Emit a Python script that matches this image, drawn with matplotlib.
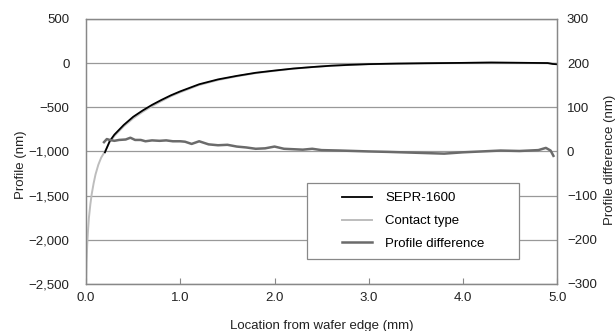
import matplotlib
matplotlib.use("Agg")
import matplotlib.pyplot as plt
from matplotlib.patches import Rectangle
from matplotlib.ticker import FuncFormatter

plt.rcParams['font.family'] = ['Liberation Sans', 'DejaVu Sans']

# contact type profile (nm), full range from wafer edge
contact_x = [0.0, 0.005, 0.012, 0.02, 0.03, 0.045, 0.06, 0.08, 0.1, 0.13, 0.16, 0.2,
             0.25, 0.3, 0.4, 0.5, 0.6, 0.7, 0.8, 0.9, 1.0, 1.2, 1.4, 1.6, 1.8, 2.0,
             2.2, 2.4, 2.6, 2.8, 3.0, 3.3, 3.6, 4.0, 4.3, 4.6, 4.9, 5.0]
contact_y = [-2480, -2250, -2050, -1900, -1750, -1600, -1480, -1360, -1260, -1150, -1070, -1000,
             -895, -825, -715, -625, -552, -487, -430, -375, -330, -248, -192, -150, -114, -88,
             -64, -46, -31, -21, -13, -7, -3, 1, 5, 2, -1, -6]

# SEPR-1600 profile (nm)
sepr_x = [0.2, 0.25, 0.3, 0.4, 0.5, 0.6, 0.7, 0.8, 0.9, 1.0, 1.2, 1.4, 1.6, 1.8, 2.0,
          2.2, 2.4, 2.6, 2.8, 3.0, 3.3, 3.6, 4.0, 4.3, 4.6, 4.9, 4.95, 5.0]
sepr_y = [-1010, -885, -810, -700, -608, -537, -473, -417, -365, -320, -240, -185, -145, -110, -85,
          -62, -45, -30, -20, -12, -6, -2, 2, 6, 3, 0, -10, -14]

# profile difference (nm), right axis
diff_x = [0.19, 0.22, 0.25, 0.3, 0.35, 0.42, 0.47, 0.52, 0.58, 0.63, 0.7, 0.78, 0.85, 0.92,
          1.0, 1.05, 1.12, 1.2, 1.3, 1.4, 1.5, 1.6, 1.7, 1.8, 1.9, 2.0, 2.1, 2.2, 2.3, 2.4,
          2.5, 2.7, 3.0, 3.2, 3.5, 3.8, 4.0, 4.2, 4.4, 4.6, 4.8, 4.88, 4.93, 4.96]
diff_y = [21, 28, 26, 24, 26, 27, 31, 26, 26, 23, 25, 24, 25, 23,
          23, 22, 17, 23, 16, 14, 15, 11, 9, 6, 7, 11, 6, 5, 4, 6,
          3, 2, 0, -1, -3, -5, -2, 0, 2, 1, 3, 8, 2, -10]

fig = plt.figure(figsize=(6.15, 3.31), dpi=100)
ax1 = fig.add_axes([0.14, 0.142, 0.766, 0.801])
ax2 = ax1.twinx()

ax1.set_xlim(0, 5)
ax1.set_ylim(-2500, 500)
ax1.set_yticks(range(-2500, 501, 500))
ax1.set_xticks([0, 1, 2, 3, 4, 5])
ax1.yaxis.grid(True, color='#999999', lw=0.9)
ax1.set_axisbelow(True)

ax2.set_ylim(-300, 300)
ax2.set_yticks(range(-300, 301, 100))

def fmt_nm(v, pos):
    s = f"{abs(int(v)):,}"
    return ("\u2212" + s) if v < 0 else s

ax1.yaxis.set_major_formatter(FuncFormatter(fmt_nm))
ax2.yaxis.set_major_formatter(FuncFormatter(fmt_nm))
ax1.xaxis.set_major_formatter(FuncFormatter(lambda v, p: f"{v:.1f}"))

l2, = ax1.plot(contact_x, contact_y, color='#bdbdbd', lw=1.4, zorder=3)
l1, = ax1.plot(sepr_x, sepr_y, color='black', lw=1.3, zorder=4)
l3, = ax2.plot(diff_x, diff_y, color='#6b6b6b', lw=1.8, zorder=3)

for ax in (ax1, ax2):
    for s in ax.spines.values():
        s.set_color('#888888')
        s.set_linewidth(0.9)
ax1.tick_params(axis='y', length=0, labelsize=9.5, pad=12, colors='#222222')
ax2.tick_params(axis='y', length=0, labelsize=9.5, pad=7, colors='#222222')
ax1.tick_params(axis='x', direction='in', length=4, color='#888888', labelsize=9.5,
                pad=6, colors='#222222')

ax1.set_ylabel("Profile (nm)", fontsize=9.5, color='#222222')
ax1.yaxis.set_label_coords(-0.125, 0.45)
ax2.set_ylabel("Profile difference (nm)", fontsize=9.5, color='#222222', rotation=90)
ax2.yaxis.set_label_coords(1.1, 0.47)
ax1.set_xlabel("Location from wafer edge (mm)", fontsize=9.5, color='#222222')
ax1.xaxis.set_label_coords(0.5, -0.135)

# legend box
ax2.add_patch(Rectangle((0.469, 0.094), 0.45, 0.287, transform=ax2.transAxes,
                        facecolor='white', edgecolor='#888888', lw=0.9, zorder=5))
leg = ax2.legend([l1, l2, l3], ["SEPR-1600", "Contact type", "Profile difference"],
                 loc='center', bbox_to_anchor=(0.469, 0.094, 0.45, 0.287),
                 frameon=False, fontsize=9.5, handlelength=2.3, handletextpad=1.0,
                 labelspacing=0.8)
leg.set_zorder(6)

fig.savefig("out.png", dpi=100)
